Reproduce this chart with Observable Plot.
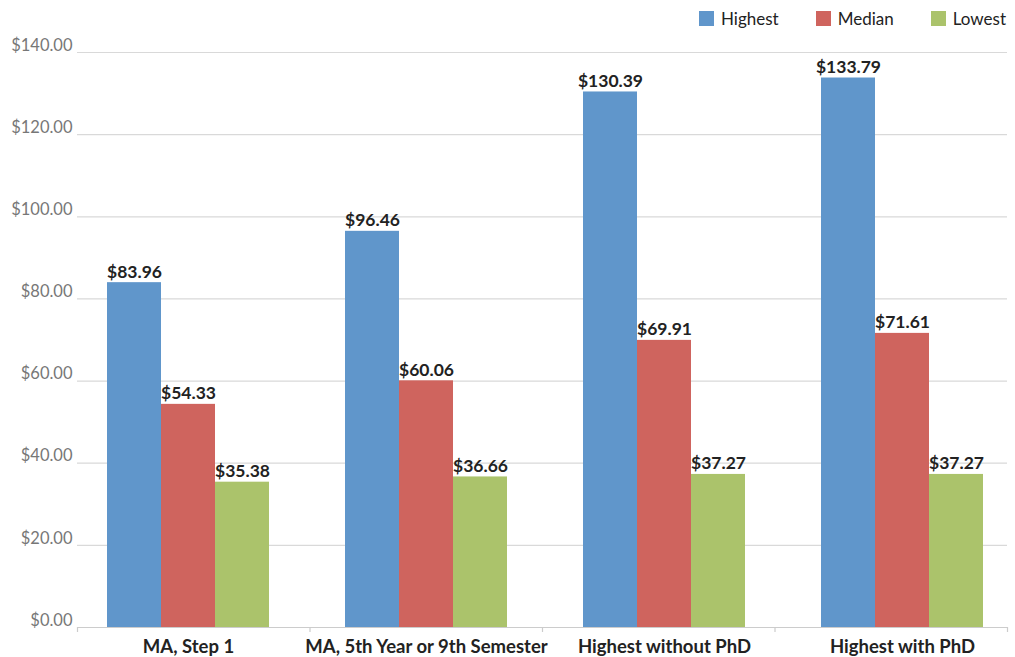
<!DOCTYPE html>
<html>
<head>
<meta charset="utf-8">
<script src="https://cdn.jsdelivr.net/npm/d3@7"></script>
<script src="https://cdn.jsdelivr.net/npm/@observablehq/plot@0.6"></script>
<style>
  html, body { margin: 0; padding: 0; background: #fff; }
  body { width: 1015px; height: 657px; overflow: hidden; font-family: Lato, "Open Sans", sans-serif; }
  #legend { height: 36px; display: flex; justify-content: flex-end; align-items: center; padding-right: 9px; gap: 37px; box-sizing: border-box; padding-top: 1px; }
  .item { display: flex; align-items: center; gap: 7px; font-size: 17px; color: #222; }
  .sw { width: 15px; height: 15px; display: inline-block; }
  #chart { position: relative; width: 1015px; height: 621px; }
  #chart > svg { position: absolute; left: 0; top: 0; }
</style>
</head>
<body>
<div id="legend"></div>
<div id="chart"></div>
<script>
const categories = ["MA, Step 1", "MA, 5th Year or 9th Semester", "Highest without PhD", "Highest with PhD"];
const series = ["Highest", "Median", "Lowest"];
const highest = [83.96, 96.46, 130.39, 133.79];
const median = [54.33, 60.06, 69.91, 71.61];
const lowest = [35.38, 36.66, 37.27, 37.27];
const colors = ["#6096cb", "#cf645e", "#abc36b"];
const yTicks = [0, 20, 40, 60, 80, 100, 120, 140];
const separators = [0, 1, 2, 3, 4]; // category boundaries (index units)

const values = [highest, median, lowest];
const data = categories.flatMap((c, i) => series.map((s, j) => ({category: c, series: s, value: values[j][i]})));
const fmt = v => "$" + v.toFixed(2);

const legend = document.getElementById("legend");
series.forEach((s, j) => {
  const it = document.createElement("div");
  it.className = "item";
  it.innerHTML = `<span class="sw" style="background:${colors[j]}"></span><span>${s}</span>`;
  legend.appendChild(it);
});

const common = {
  width: 1015,
  height: 621,
  marginTop: 16,
  marginLeft: 77,
  marginRight: 8,
  marginBottom: 30,
  style: {fontFamily: "Lato, 'Open Sans', sans-serif", fontSize: "16px", background: "transparent"}
};

// Background layer: grid, baseline, y axis, category separators
const back = Plot.plot({
  ...common,
  x: {domain: [0, categories.length], label: null},
  y: {domain: [0, 140], label: null},
  marks: [
    Plot.ruleY(yTicks.slice(1), {stroke: "#d9d9d9", strokeWidth: 1.2}),
    Plot.ruleY([0], {stroke: "#cccccc", strokeWidth: 1.2}),
    Plot.axisY(yTicks, {tickSize: 0, tickPadding: 5, tickFormat: fmt, fill: "#777", fontSize: 16.5, dy: -7, label: null}),
    Plot.axisX(separators, {tickSize: 5, tickFormat: () => "", stroke: "#cccccc", strokeWidth: 1.2, label: null})
  ]
});

// Foreground layer: grouped bars, value labels, category labels
const front = Plot.plot({
  ...common,
  fx: {domain: categories, paddingInner: 0.116, paddingOuter: 0.0093, align: 1, label: null},
  x: {domain: series, paddingInner: 0, paddingOuter: 0.4145, axis: null},
  y: {domain: [0, 140], axis: null},
  color: {domain: series, range: colors},
  marks: [
    Plot.barY(data, {fx: "category", x: "series", y: "value", fill: "series"}),
    Plot.text(data, {fx: "category", x: "series", y: "value", text: d => fmt(d.value), dy: -5, lineAnchor: "bottom", fontWeight: "bold", fontSize: 17.5, fill: "#222"}),
    Plot.axisFx({anchor: "bottom", tickSize: 0, tickPadding: 12, fontWeight: "bold", fontSize: 18.5, fill: "#222", label: null})
  ]
});

const chart = document.getElementById("chart");
chart.appendChild(back);
chart.appendChild(front);
</script>
</body>
</html>
